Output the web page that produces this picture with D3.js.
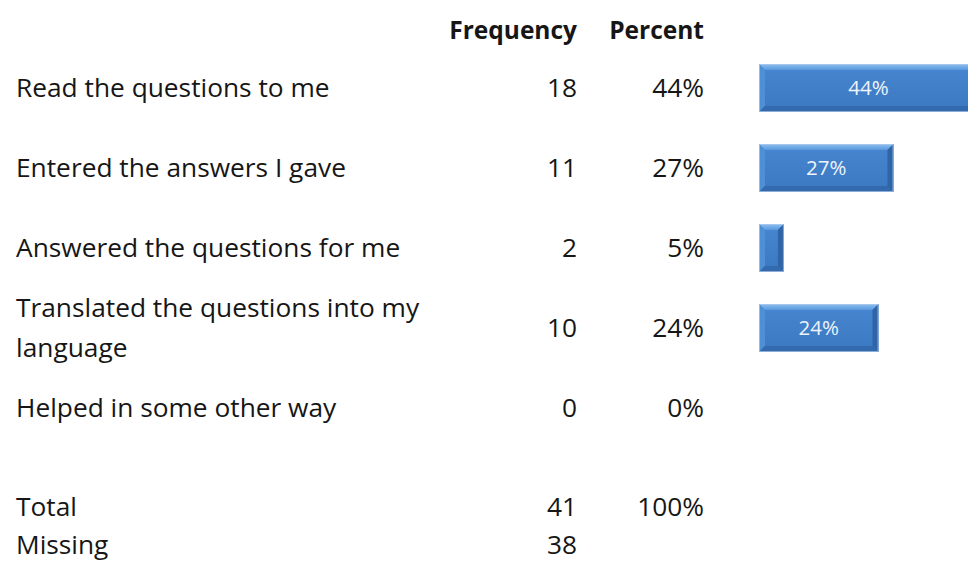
<!DOCTYPE html>
<html>
<head>
<meta charset="utf-8">
<script src="https://cdn.jsdelivr.net/npm/d3@7"></script>
<style>
  html, body { margin: 0; padding: 0; background: #fff; }
  svg { display: block; }
  text { font-family: "Open Sans", sans-serif; fill: #161616; }
</style>
</head>
<body>
<svg id="chart" width="968" height="563"></svg>
<script>
// Responses: who helped with the questionnaire
const categories = [
  ["Read the questions to me"],
  ["Entered the answers I gave"],
  ["Answered the questions for me"],
  ["Translated the questions into my", "language"],
  ["Helped in some other way"]
];
const frequencies = [18, 11, 2, 10, 0];
const percents = [44, 27, 5, 24, 0];
const summaryLabels = ["Total", "Missing"];
const summaryFrequencies = [41, 38];
const summaryPercents = ["100%", ""];
const headers = ["Frequency", "Percent"];

const svg = d3.select("#chart");
const W = 968, H = 563;

// Layout
const labelX = 16, freqRight = 577, pctRight = 704;
const barX0 = 759;
const rowY = d3.scalePoint().domain(d3.range(categories.length)).range([88, 408]);
const x = d3.scaleLinear().domain([0, 100]).range([0, 498]);
const barH = 48;
const fontSize = 26.3;

// Gradients for bar body and top bevel
const defs = svg.append("defs");
const g1 = defs.append("linearGradient").attr("id", "barFill").attr("x1", 0).attr("y1", 0).attr("x2", 0).attr("y2", 1);
g1.append("stop").attr("offset", "0%").attr("stop-color", "#4786d0");
g1.append("stop").attr("offset", "100%").attr("stop-color", "#3b78c2");
const g2 = defs.append("linearGradient").attr("id", "topBevel").attr("x1", 0).attr("y1", 0).attr("x2", 0).attr("y2", 1);
g2.append("stop").attr("offset", "0%").attr("stop-color", "#8cc0f2");
g2.append("stop").attr("offset", "100%").attr("stop-color", "#5a98dc");

// Column headers
svg.append("g").selectAll("text").data(headers).join("text")
  .attr("x", (d, i) => i === 0 ? freqRight : pctRight)
  .attr("y", 30)
  .attr("dy", "0.35em")
  .attr("text-anchor", "end")
  .attr("font-weight", "bold")
  .attr("font-size", 24.5)
  .text(d => d);

// Category labels and values
const rows = svg.append("g").selectAll("g").data(categories).join("g");
rows.each(function(lines, i) {
  const g = d3.select(this);
  const cy = rowY(i);
  const offsets = lines.length === 1 ? [0] : [-20, 20];
  lines.forEach((ln, j) => {
    g.append("text")
      .attr("x", labelX)
      .attr("y", cy + offsets[j])
      .attr("dy", "0.35em")
      .attr("font-size", fontSize)
      .text(ln);
  });
  g.append("text")
    .attr("x", freqRight).attr("y", cy).attr("dy", "0.35em")
    .attr("text-anchor", "end").attr("font-size", fontSize)
    .text(frequencies[i]);
  g.append("text")
    .attr("x", pctRight).attr("y", cy).attr("dy", "0.35em")
    .attr("text-anchor", "end").attr("font-size", fontSize)
    .text(percents[i] + "%");
});

// Bevelled bars
const bars = svg.append("g").selectAll("g").data(percents.map((p, i) => ({p, i})).filter(d => d.p > 0)).join("g");
bars.each(function(d) {
  const g = d3.select(this);
  const w = x(d.p);
  const y0 = rowY(d.i) - barH / 2;
  const x0 = barX0;
  const b = 6;
  g.append("rect").attr("x", x0).attr("y", y0).attr("width", w).attr("height", barH).attr("fill", "url(#barFill)");
  // top bevel
  g.append("polygon").attr("points", [[x0, y0], [x0 + w, y0], [x0 + w - b, y0 + b], [x0 + b, y0 + b]].join(" "))
    .attr("fill", "url(#topBevel)");
  // left bevel
  g.append("polygon").attr("points", [[x0, y0], [x0 + b, y0 + b], [x0 + b, y0 + barH - b], [x0, y0 + barH]].join(" "))
    .attr("fill", "#4f8fd6");
  // right bevel
  g.append("polygon").attr("points", [[x0 + w, y0], [x0 + w, y0 + barH], [x0 + w - b, y0 + barH - b], [x0 + w - b, y0 + b]].join(" "))
    .attr("fill", "#2f64a6");
  // bottom bevel
  g.append("polygon").attr("points", [[x0, y0 + barH], [x0 + w, y0 + barH], [x0 + w - b, y0 + barH - b], [x0 + b, y0 + barH - b]].join(" "))
    .attr("fill", "#3369ad");
  g.append("rect").attr("x", x0 + 0.5).attr("y", y0 + 0.5).attr("width", w - 1).attr("height", barH - 1)
    .attr("fill", "none").attr("stroke", "#b5cce8").attr("stroke-width", 1).attr("opacity", 0.7);
  if (w > 60) {
    g.append("text")
      .attr("x", x0 + w / 2)
      .attr("y", rowY(d.i)).attr("dy", "0.35em")
      .attr("text-anchor", "middle")
      .attr("font-size", 20.5)
      .style("fill", "#eef4fb")
      .text(d.p + "%");
  }
});

// Summary rows
const sumY = [507, 545];
svg.append("g").selectAll("g").data(summaryLabels).join("g").each(function(lbl, i) {
  const g = d3.select(this);
  g.append("text").attr("x", labelX).attr("y", sumY[i]).attr("dy", "0.33em").attr("font-size", fontSize).text(lbl);
  g.append("text").attr("x", freqRight).attr("y", sumY[i]).attr("dy", "0.33em").attr("text-anchor", "end").attr("font-size", fontSize).text(summaryFrequencies[i]);
  g.append("text").attr("x", pctRight).attr("y", sumY[i]).attr("dy", "0.33em").attr("text-anchor", "end").attr("font-size", fontSize).text(summaryPercents[i]);
});
</script>
</body>
</html>
